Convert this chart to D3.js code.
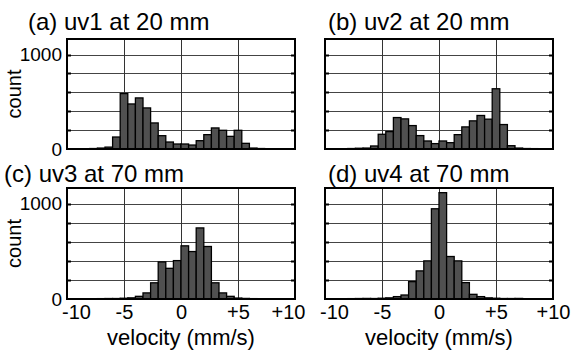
<!DOCTYPE html>
<html>
<head>
<meta charset="utf-8">
<script src="https://cdn.jsdelivr.net/npm/d3@7"></script>
<style>
    html, body { margin: 0; padding: 0; background: #fff; }
    svg { display: block; font-family: "Liberation Sans", Arial, Helvetica, sans-serif; }
</style>
</head>
<body>
<div id="chart"></div>
<script>
// Data
const binEdges = d3.range(31).map(i => -10 + i * 2 / 3); // 30 bins of 2/3 mm/s
const countsA = [2, 2, 3, 5, 10, 20, 127, 587, 477, 541, 435, 276, 141, 74, 53, 53, 42, 88, 152, 223, 198, 134, 198, 60, 10, 5, 3, 2, 2, 1];
const countsB = [2, 2, 3, 5, 8, 10, 32, 156, 184, 333, 319, 248, 142, 85, 57, 85, 67, 152, 234, 298, 355, 316, 638, 259, 35, 10, 5, 4, 3, 2];
const countsC = [1, 2, 3, 3, 4, 5, 5, 8, 12, 28, 64, 170, 389, 322, 403, 558, 498, 746, 551, 170, 64, 28, 10, 6, 4, 3, 2, 2, 1, 1];
const countsD = [1, 2, 3, 4, 5, 6, 5, 8, 12, 25, 42, 182, 295, 400, 947, 1116, 446, 400, 172, 49, 25, 12, 8, 5, 5, 6, 3, 2, 2, 1];
const titles = ['(a) uv1 at 20 mm', '(b) uv2 at 20 mm', '(c) uv3 at 70 mm', '(d) uv4 at 70 mm'];
const xTicks = [-10, -5, 0, 5, 10];
const xTickLabels = ['-10', '-5', '0', '+5', '+10'];
const yGrid = [200, 400, 600, 800, 1000];
const yTicks = [0, 1000];
const yMax = 1165;

// Layout
const width = 575, height = 353;
const panels = [
    { counts: countsA, x0: 67, x1: 295, y0: 39, y1: 149, tx: 28, ty: 30, left: true, bottom: false, lastDx: 0 },
    { counts: countsB, x0: 325, x1: 553, y0: 39, y1: 149, tx: 328, ty: 30, left: false, bottom: false, lastDx: 0 },
    { counts: countsC, x0: 67, x1: 295, y0: 188, y1: 299, tx: 4, ty: 182, left: true, bottom: true, lastDx: -7 },
    { counts: countsD, x0: 325, x1: 553, y0: 188, y1: 299, tx: 328, ty: 182, left: false, bottom: true, lastDx: 0 }
];

const svg = d3.select('#chart')
    .append('svg')
    .attr('width', width)
    .attr('height', height);

svg.append('rect')
    .attr('width', width)
    .attr('height', height)
    .attr('fill', '#fff');

panels.forEach((p, k) => {
    const x = d3.scaleLinear().domain([-10, 10]).range([p.x0, p.x1]);
    const y = d3.scaleLinear().domain([0, yMax]).range([p.y1, p.y0]);
    const g = svg.append('g');

    // grid
    g.append('g')
        .selectAll('line')
        .data(yGrid)
        .join('line')
        .attr('x1', p.x0)
        .attr('x2', p.x1)
        .attr('y1', d => Math.round(y(d)) + 0.5)
        .attr('y2', d => Math.round(y(d)) + 0.5)
        .attr('stroke', '#444')
        .attr('stroke-width', 1);

    g.append('g')
        .selectAll('line')
        .data(xTicks.slice(1, -1))
        .join('line')
        .attr('x1', d => Math.round(x(d)) + 0.5)
        .attr('x2', d => Math.round(x(d)) + 0.5)
        .attr('y1', p.y0)
        .attr('y2', p.y1)
        .attr('stroke', '#333')
        .attr('stroke-width', 1);

    // bars
    g.append('g')
        .selectAll('rect')
        .data(p.counts)
        .join('rect')
        .attr('x', (d, i) => x(binEdges[i]))
        .attr('width', (d, i) => x(binEdges[i + 1]) - x(binEdges[i]))
        .attr('y', d => y(d))
        .attr('height', d => y(0) - y(d))
        .attr('fill', '#505050')
        .attr('stroke', '#000')
        .attr('stroke-width', 1.3);

    // inward ticks
    g.append('g')
        .selectAll('line')
        .data(yGrid)
        .join('line')
        .attr('x1', p.x0)
        .attr('x2', p.x0 + 4)
        .attr('y1', d => Math.round(y(d)) + 0.5)
        .attr('y2', d => Math.round(y(d)) + 0.5)
        .attr('stroke', '#000')
        .attr('stroke-width', 2);

    g.append('g')
        .selectAll('line')
        .data(yGrid)
        .join('line')
        .attr('x1', p.x1 - 4)
        .attr('x2', p.x1)
        .attr('y1', d => Math.round(y(d)) + 0.5)
        .attr('y2', d => Math.round(y(d)) + 0.5)
        .attr('stroke', '#000')
        .attr('stroke-width', 2);

    // frame
    g.append('rect')
        .attr('x', p.x0)
        .attr('y', p.y0)
        .attr('width', p.x1 - p.x0)
        .attr('height', p.y1 - p.y0)
        .attr('fill', 'none')
        .attr('stroke', '#000')
        .attr('stroke-width', 2);

    // title
    svg.append('text')
        .attr('x', p.tx)
        .attr('y', p.ty)
        .style('font-size', '24px')
        .text(titles[k]);

    // y axis
    if (p.left) {
        const yAxis = svg.append('g')
            .attr('transform', 'translate(' + p.x0 + ',0)')
            .call(d3.axisLeft(y).tickValues(yTicks).tickFormat(d => String(d)).tickSize(0).tickPadding(5));
        yAxis.select('.domain').remove();
        yAxis.selectAll('text')
            .style('font-size', '19px')
            .style('font-family', '"Liberation Sans", Arial, sans-serif')
            .attr('fill', '#000');

        svg.append('text')
            .attr('transform', 'translate(21,' + (p.y0 + p.y1) / 2 + ') rotate(-90)')
            .style('font-size', '20px')
            .style('text-anchor', 'middle')
            .text('count');
    }

    // x axis
    if (p.bottom) {
        const xAxis = svg.append('g')
            .attr('transform', 'translate(0,' + p.y1 + ')')
            .call(d3.axisBottom(x).tickValues(xTicks).tickFormat((d, i) => xTickLabels[i]).tickSize(0).tickPadding(6));
        xAxis.select('.domain').remove();
        xAxis.selectAll('text')
            .style('font-size', '20px')
            .style('font-family', '"Liberation Sans", Arial, sans-serif')
            .attr('fill', '#000');
        xAxis.selectAll('.tick')
            .filter((d, i) => i === 0)
            .select('text')
            .attr('dx', 9);
        xAxis.selectAll('.tick')
            .filter((d, i, nodes) => i === nodes.length - 1)
            .select('text')
            .attr('dx', p.lastDx);

        svg.append('text')
            .attr('x', (p.x0 + p.x1) / 2)
            .attr('y', 345)
            .style('font-size', '22px')
            .style('text-anchor', 'middle')
            .text('velocity (mm/s)');
    }
});
</script>
</body>
</html>
